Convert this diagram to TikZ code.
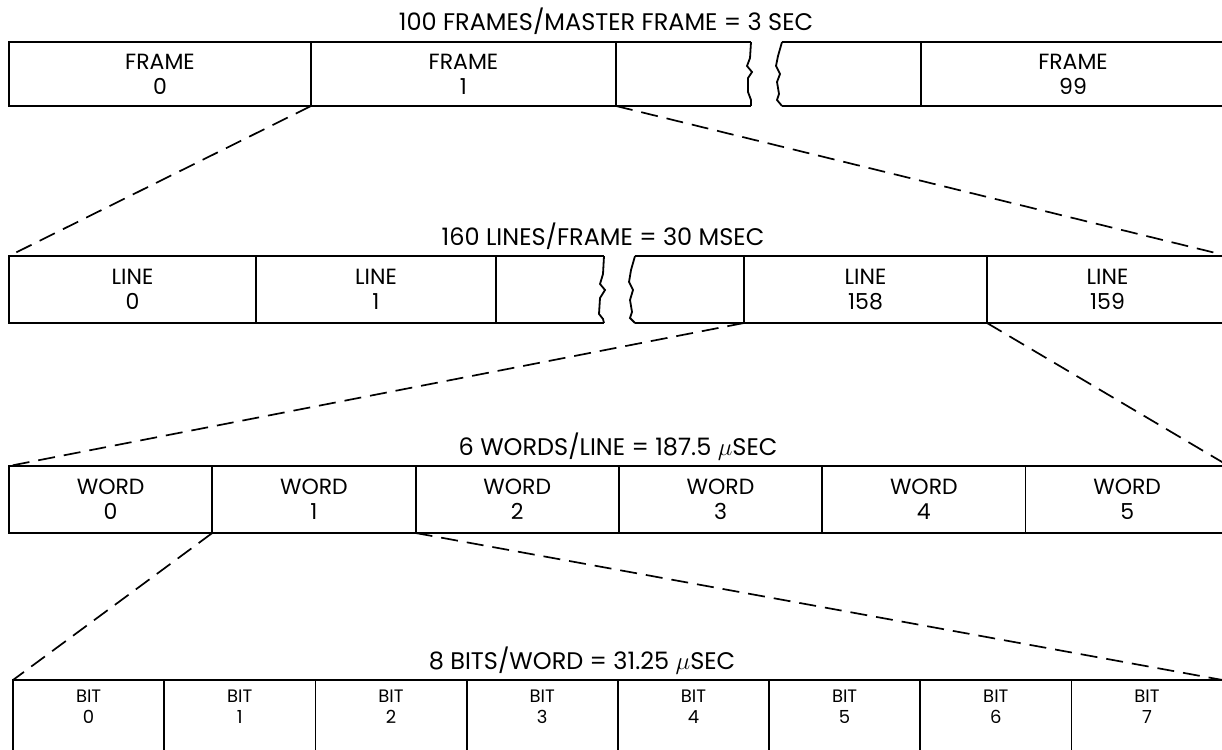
\documentclass[tikz,border=0pt]{standalone}
\usepackage{fontspec}
\setmainfont{Poppins}
\usetikzlibrary{positioning}
\begin{document}
\begin{tikzpicture}[x=1pt, y=-1pt,
    cell/.style={rectangle, draw, line width=1.8pt, inner sep=0pt, outer sep=0pt, minimum height=67pt, align=center, font=\fontsize{22}{25}\selectfont},
    blank/.style={rectangle, inner sep=0pt, outer sep=0pt, minimum height=67pt},
    wordcell/.style={cell, minimum width=203.3pt},
    bitcell/.style={cell, minimum width=151.2pt, minimum height=72pt, text depth=18pt, font=\fontsize{18}{21}\selectfont},
    title/.style={anchor=base, font=\fontsize{24}{26}\selectfont},
    edge/.style={line width=1.8pt},
    zoomline/.style={line width=1.7pt, dash pattern=on 17pt off 9pt}]
    \useasboundingbox[fill=white] (0,0) rectangle (1222,749);

    \node (tframe) [title] at (606,31) {100 FRAMES/MASTER FRAME = 3 SEC};
    \node (f0) [cell, minimum height=64pt, minimum width=302pt, anchor=north west] at (9,42) {FRAME\\0};
    \node (f1) [cell, minimum height=64pt, minimum width=305pt, right=0pt of f0] {FRAME\\1};
    \node (f2) [blank, minimum height=64pt, minimum width=135pt, right=0pt of f1] {};
    \node (f98) [blank, minimum height=64pt, minimum width=139pt, anchor=north west] at (782,42) {};
    \node (f99) [cell, minimum height=64pt, minimum width=304pt, right=0pt of f98] {FRAME\\99};

    \node (tline) [title] at (603,245) {160 LINES/FRAME = 30 MSEC};
    \node (l0) [cell, minimum width=247pt, anchor=north west] at (9,256) {LINE\\0};
    \node (l1) [cell, minimum width=240pt, right=0pt of l0] {LINE\\1};
    \node (l2) [blank, minimum width=108pt, right=0pt of l1] {};
    \node (l157) [blank, minimum width=109pt, anchor=north west] at (635,256) {};
    \node (l158) [cell, minimum width=243pt, right=0pt of l157] {LINE\\158};
    \node (l159) [cell, minimum width=241pt, right=0pt of l158] {LINE\\159};

    \node (tword) [title] at (618,455) {6 WORDS/LINE = 187.5 $\mu$SEC};
    \node (w0) [wordcell, anchor=north west] at (9,466) {WORD\\0};
    \node (w1) [wordcell, right=0pt of w0] {WORD\\1};
    \node (w2) [wordcell, right=0pt of w1] {WORD\\2};
    \node (w3) [wordcell, right=0pt of w2] {WORD\\3};
    \node (w4) [wordcell, right=0pt of w3] {WORD\\4};
    \node (w5) [wordcell, right=0pt of w4] {WORD\\5};

    \node (tbit) [title] at (582,669) {8 BITS/WORD = 31.25 $\mu$SEC};
    \node (b0) [bitcell, anchor=north west] at (13,680) {BIT\\0};
    \node (b1) [bitcell, right=0pt of b0] {BIT\\1};
    \node (b2) [bitcell, right=0pt of b1] {BIT\\2};
    \node (b3) [bitcell, right=0pt of b2] {BIT\\3};
    \node (b4) [bitcell, right=0pt of b3] {BIT\\4};
    \node (b5) [bitcell, right=0pt of b4] {BIT\\5};
    \node (b6) [bitcell, right=0pt of b5] {BIT\\6};
    \node (b7) [bitcell, right=0pt of b6] {BIT\\7};

    \draw[edge] (f2.north west) -- (f2.north east);
    \draw[edge] (f2.south west) -- (f2.south east);
    \draw[edge] (f2.north east) -- ++(-1,16) -- ++(-3,8) -- ++(5,6) -- ++(-4,6) -- ++(0,14) -- ++(3,8) -- (f2.south east);
    \draw[edge] (f98.north west) -- (f98.north east);
    \draw[edge] (f98.south west) -- (f98.south east);
    \draw[edge] (f98.north west) -- ++(-4,14) -- ++(-2,10) -- ++(4,8) -- ++(-3,8) -- ++(2,12) -- ++(-2,6) -- (f98.south west);

    \draw[edge] (l2.north west) -- (l2.north east);
    \draw[edge] (l2.south west) -- (l2.south east);
    \draw[edge] (l2.north east) -- ++(-1,18) -- ++(-3,10) -- ++(5,6) -- ++(-5,8) -- ++(-1,16) -- ++(4,5) -- (l2.south east);
    \draw[edge] (l157.north west) -- (l157.north east);
    \draw[edge] (l157.south west) -- (l157.south east);
    \draw[edge] (l157.north west) -- ++(-4,14) -- ++(-2,12) -- ++(4,8) -- ++(-3,10) -- ++(2,12) -- ++(-2,6) -- (l157.south west);

    \draw[zoomline] (f1.south west) -- (l0.north west);
    \draw[zoomline] (f1.south east) -- (l159.north east);
    \draw[zoomline] (l158.south west) -- (w0.north west);
    \draw[zoomline] (l158.south east) -- (w5.north east);
    \draw[zoomline] (w1.south west) -- (b0.north west);
    \draw[zoomline] (w1.south east) -- (b7.north east);
\end{tikzpicture}
\end{document}
